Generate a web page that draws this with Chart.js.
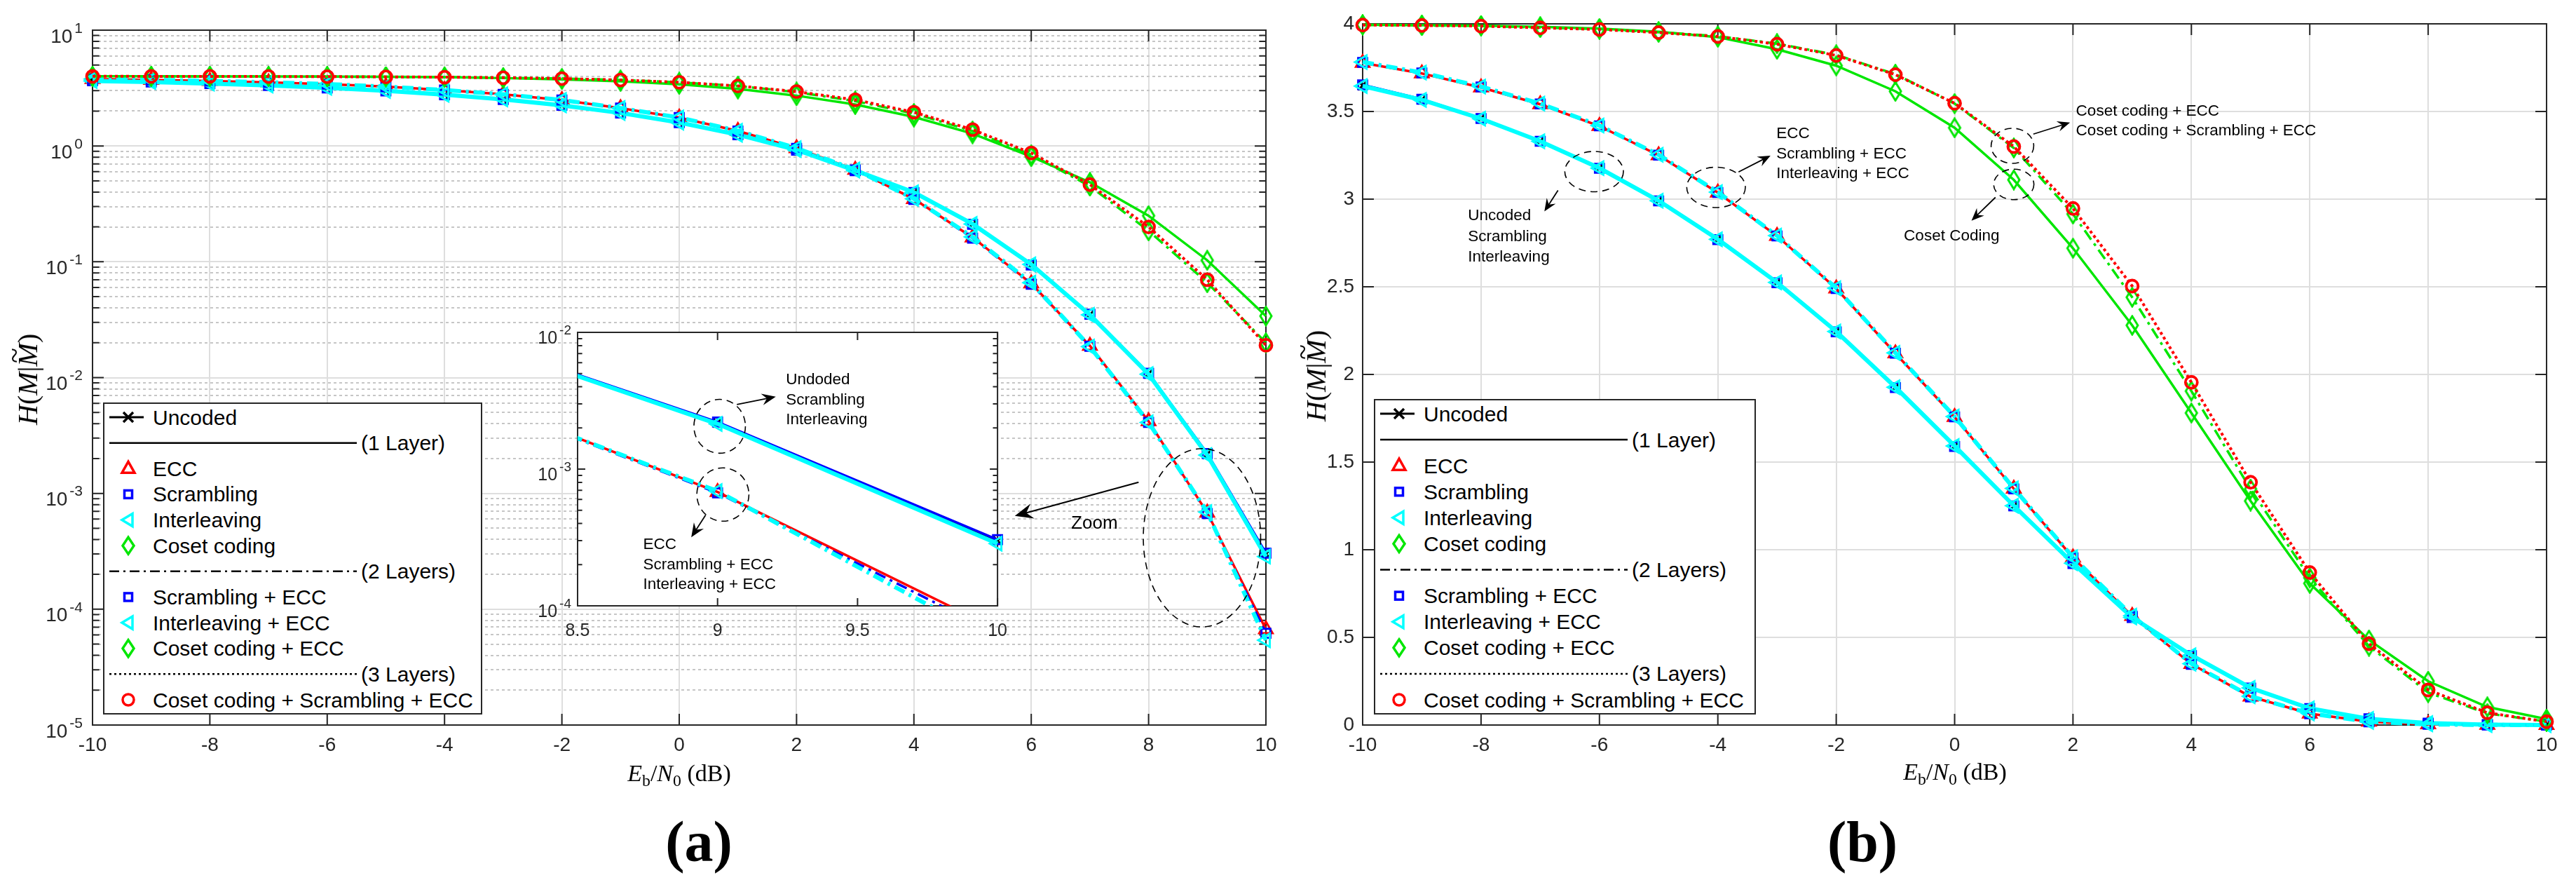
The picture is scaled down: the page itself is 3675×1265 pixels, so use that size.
<!DOCTYPE html>
<html>
<head>
<meta charset="utf-8">
<title>H(M|M~) versus Eb/N0</title>
<script src="https://cdn.jsdelivr.net/npm/chart.js@4.4.1/dist/chart.umd.min.js"></script>
<style>
  html, body { margin: 0; padding: 0; background: #fff; }
  body { position: relative; width: 3675px; height: 1265px; overflow: hidden; font-family: "Liberation Sans", Arial, sans-serif; }
  .panel { position: absolute; }
  .legend { position: absolute; overflow: visible; }
  .axis-title { position: absolute; font-family: "Liberation Serif", "DejaVu Serif", serif; color: #000; white-space: nowrap; transform: translate(-50%, -50%); line-height: 1; }
  .axis-title .sb { font-size: 0.7em; position: relative; top: 0.3em; }
  .ytitle { transform: translate(-50%, -50%) rotate(-90deg); }
  .tl { position: relative; display: inline-block; }
  .tl .tw { position: absolute; left: 0.12em; top: -0.48em; font-style: normal; }
  .tag { position: absolute; font-family: "Liberation Serif", "DejaVu Serif", serif; font-weight: bold; font-size: 82px; transform: translate(-50%, -50%); line-height: 1; }
</style>
</head>
<body>
<div class="panel" style="left:0;top:0;width:1880px;height:1265px"><canvas id="chartLog"></canvas></div>
<div class="panel" style="left:750px;top:455px;width:700px;height:460px"><canvas id="chartZoom"></canvas></div>
<div class="panel" style="left:1880px;top:0;width:1795px;height:1265px"><canvas id="chartLin"></canvas></div>

<svg class="legend" id="legendLog" style="left:147px;top:574px" width="541" height="445"></svg>
<svg class="legend" id="legendLin" style="left:1960px;top:569px" width="545" height="450"></svg>

<div class="axis-title ytitle" style="left:40px;top:541px;font-size:40px"><i>H</i>(<i>M</i>|<i class="tl">M<span class="tw">~</span></i>)</div>
<div class="axis-title ytitle" style="left:1878px;top:536px;font-size:40px"><i>H</i>(<i>M</i>|<i class="tl">M<span class="tw">~</span></i>)</div>
<div class="axis-title" style="left:969px;top:1103px;font-size:34px"><i>E</i><span class="sb">b</span>/<i>N</i><span class="sb">0</span> (dB)</div>
<div class="axis-title" style="left:2789px;top:1101px;font-size:34px"><i>E</i><span class="sb">b</span>/<i>N</i><span class="sb">0</span> (dB)</div>
<div class="tag" style="left:997px;top:1201px">(a)</div>
<div class="tag" style="left:2657px;top:1201px">(b)</div>

<script>
// Eb/N0 in dB
const snrDb = [-10, -9, -8, -7, -6, -5, -4, -3, -2, -1, 0, 1, 2, 3, 4, 5, 6, 7, 8, 9, 10];

// H(M|M~) per scheme
const uncoded = [3.648, 3.568, 3.461, 3.331, 3.177, 2.990, 2.770, 2.524, 2.244, 1.926, 1.590, 1.249, 0.922, 0.613, 0.397, 0.211, 0.094, 0.0350, 0.0108, 0.00218, 0.000300];
const ecc = [3.777, 3.717, 3.637, 3.541, 3.417, 3.250, 3.037, 2.790, 2.490, 2.120, 1.757, 1.348, 0.955, 0.622, 0.348, 0.162, 0.065, 0.0188, 0.0042, 0.00068, 0.000067];
const scrambling = [3.652, 3.570, 3.460, 3.330, 3.176, 2.990, 2.769, 2.523, 2.243, 1.925, 1.589, 1.250, 0.921, 0.613, 0.396, 0.211, 0.094, 0.0352, 0.0109, 0.00221, 0.000305];
const interleaving = [3.645, 3.566, 3.459, 3.330, 3.177, 2.991, 2.771, 2.525, 2.245, 1.927, 1.592, 1.251, 0.923, 0.614, 0.398, 0.212, 0.095, 0.0348, 0.0107, 0.00214, 0.000285];
const cosetCoding = [3.995, 3.992, 3.990, 3.983, 3.973, 3.955, 3.924, 3.855, 3.761, 3.615, 3.407, 3.110, 2.720, 2.280, 1.780, 1.278, 0.808, 0.485, 0.250, 0.103, 0.034];
const scramblingEcc = [3.780, 3.720, 3.640, 3.543, 3.418, 3.251, 3.038, 2.790, 2.490, 2.121, 1.758, 1.347, 0.954, 0.621, 0.346, 0.160, 0.064, 0.0186, 0.0041, 0.00067, 0.000062];
const interleavingEcc = [3.782, 3.722, 3.642, 3.545, 3.420, 3.253, 3.040, 2.792, 2.492, 2.123, 1.760, 1.350, 0.957, 0.624, 0.350, 0.164, 0.066, 0.0185, 0.0041, 0.00069, 0.000054];
const cosetEcc = [3.994, 3.991, 3.988, 3.979, 3.970, 3.952, 3.930, 3.887, 3.823, 3.713, 3.545, 3.292, 2.915, 2.440, 1.905, 1.346, 0.840, 0.450, 0.185, 0.066, 0.020];
const cosetScramblingEcc = [3.993, 3.991, 3.987, 3.977, 3.968, 3.950, 3.928, 3.884, 3.820, 3.710, 3.547, 3.300, 2.947, 2.504, 1.955, 1.385, 0.870, 0.464, 0.200, 0.070, 0.019];

const seriesNames = ['Uncoded', 'ECC', 'Scrambling', 'Interleaving', 'Coset coding',
    'Scrambling + ECC', 'Interleaving + ECC', 'Coset coding + ECC', 'Coset coding + Scrambling + ECC'];
const layerLabels = ['(1 Layer)', '(2 Layers)', '(3 Layers)'];

// axis ticks
const xTickValues = [-10, -8, -6, -4, -2, 0, 2, 4, 6, 8, 10];
const logDecades = [-5, -4, -3, -2, -1, 0, 1];
const linTickValues = [0, 0.5, 1, 1.5, 2, 2.5, 3, 3.5, 4];
const zoomXTicks = [8.5, 9, 9.5, 10];
const zoomDecades = [-4, -3, -2];

const seriesValues = [uncoded, ecc, scrambling, interleaving, cosetCoding,
    scramblingEcc, interleavingEcc, cosetEcc, cosetScramblingEcc];

const AXIS = '#262626';
const GRID = '#dedede';
const MINOR_GRID = '#c6c6c6';
const SANS = '"Liberation Sans", Arial, Helvetica, sans-serif';
const DASH_DOT = [16, 7, 4, 7];
const DOTTED = [4, 4];

Chart.defaults.font.family = SANS;

function makeDiamond(color) {
    const c = document.createElement('canvas');
    c.width = 22;
    c.height = 30;
    const g = c.getContext('2d');
    g.strokeStyle = color;
    g.lineWidth = 3;
    g.beginPath();
    g.moveTo(11, 2); g.lineTo(19, 15); g.lineTo(11, 28); g.lineTo(3, 15);
    g.closePath();
    g.stroke();
    return c;
}

const greenDiamond = makeDiamond('#00e600');

const seriesLook = [
    { color: '#000000', marker: 'crossRot', dash: [], width: 3, size: 9 },
    { color: '#ff0000', marker: 'triangle', dash: [], width: 3.5, size: 11 },
    { color: '#0000ff', marker: 'rect', dash: [], width: 3.5, size: 9 },
    { color: '#00ffff', marker: 'triangle', rot: -90, dash: [], width: 6, size: 11 },
    { color: '#00e600', marker: 'diamond', dash: [], width: 3.5, size: 10 },
    { color: '#0000ff', marker: 'rect', dash: DASH_DOT, width: 3.5, size: 9 },
    { color: '#00ffff', marker: 'triangle', rot: -90, dash: DASH_DOT, width: 6, size: 11 },
    { color: '#00e600', marker: 'diamond', dash: DASH_DOT, width: 3.5, size: 10 },
    { color: '#ff0000', marker: 'circle', dash: DOTTED, width: 4, size: 8.5 },
];

const isDecade = v => Math.abs(Math.log10(v) - Math.round(Math.log10(v))) < 1e-6;

function logTicksFor(decades) {
    const out = [];
    for (let i = 0; i < decades.length - 1; i++) {
        for (let m = 1; m <= 9; m++) out.push(m * Math.pow(10, decades[i]));
    }
    out.push(Math.pow(10, decades[decades.length - 1]));
    return out;
}

function buildDatasets(clip) {
    return seriesValues.map((vals, i) => {
        const look = seriesLook[i];
        return {
            label: seriesNames[i],
            data: snrDb.map((x, k) => ({ x: x, y: vals[k] })),
            borderColor: look.color,
            borderWidth: look.width,
            borderDash: look.dash,
            backgroundColor: 'rgba(0,0,0,0)',
            fill: false,
            tension: 0,
            pointStyle: look.marker === 'diamond' ? greenDiamond : look.marker,
            pointRotation: look.rot || 0,
            pointRadius: look.size,
            pointBorderWidth: look.marker === 'circle' ? 3.8 : 3,
            pointBorderColor: look.color,
            pointBackgroundColor: 'rgba(0,0,0,0)',
            clip: clip,
            order: seriesValues.length - i,
        };
    });
}

// box, inward ticks and dotted minor grid like the original figure
const framePlugin = {
    id: 'frame',
    beforeDatasetsDraw(chart, args, opts) {
        const { ctx, chartArea: a, scales: { x, y } } = chart;
        const len = opts.tick || 16;
        ctx.save();
        if (opts.minorGrid) {
            ctx.strokeStyle = MINOR_GRID;
            ctx.lineWidth = 2;
            ctx.setLineDash([4, 4]);
            ctx.beginPath();
            y.ticks.forEach(t => {
                if (isDecade(t.value)) return;
                const p = Math.round(y.getPixelForValue(t.value));
                ctx.moveTo(a.left, p);
                ctx.lineTo(a.right, p);
            });
            ctx.stroke();
            ctx.setLineDash([]);
        }
        ctx.strokeStyle = AXIS;
        ctx.lineWidth = 2;
        ctx.beginPath();
        x.ticks.forEach(t => {
            const p = x.getPixelForValue(t.value);
            ctx.moveTo(p, a.bottom); ctx.lineTo(p, a.bottom - len);
            ctx.moveTo(p, a.top); ctx.lineTo(p, a.top + len);
        });
        y.ticks.forEach(t => {
            const l = (opts.log && !isDecade(t.value)) ? len * 0.6 : len;
            const p = y.getPixelForValue(t.value);
            ctx.moveTo(a.left, p); ctx.lineTo(a.left + l, p);
            ctx.moveTo(a.right, p); ctx.lineTo(a.right - l, p);
        });
        ctx.stroke();
        ctx.strokeRect(a.left, a.top, a.right - a.left, a.bottom - a.top);
        ctx.restore();
    }
};

// "10" with a raised exponent at every decade of a log axis
const decadeLabelPlugin = {
    id: 'decadeLabels',
    afterDraw(chart, args, opts) {
        const { ctx, chartArea: a, scales: { y } } = chart;
        const big = opts.size || 28;
        const small = Math.round(big * 0.75);
        ctx.save();
        ctx.fillStyle = AXIS;
        ctx.textAlign = 'right';
        ctx.textBaseline = 'alphabetic';
        y.ticks.forEach(t => {
            if (!isDecade(t.value)) return;
            const p = y.getPixelForValue(t.value);
            const exp = String(Math.round(Math.log10(t.value)));
            const xr = a.left - (opts.gap || 14);
            ctx.font = small + 'px ' + SANS;
            const ew = ctx.measureText(exp).width;
            ctx.fillText(exp, xr, p + small * 0.18);
            ctx.font = big + 'px ' + SANS;
            ctx.fillText('10', xr - ew - 3, p + big * 0.63);
        });
        ctx.restore();
    }
};

const paperPlugin = {
    id: 'paper',
    beforeDraw(chart) {
        const { ctx, chartArea: a } = chart;
        ctx.save();
        ctx.fillStyle = '#ffffff';
        ctx.fillRect(a.left, a.top, a.right - a.left, a.bottom - a.top);
        ctx.restore();
    }
};

function notesPlugin(notes, logY) {
    return {
        id: 'notes',
        afterDatasetsDraw(chart) {
            const { ctx, scales: { x, y } } = chart;
            const px = v => x.getPixelForValue(v);
            const py = v => y.getPixelForValue(logY ? Math.pow(10, v) : v);
            ctx.save();
            ctx.strokeStyle = '#000';
            ctx.fillStyle = '#000';
            notes.ellipses.forEach(e => {
                const cx = px(e.x), cy = py(e.y);
                const rx = Math.abs(px(e.x + e.rx) - cx);
                const ry = Math.abs(py(e.y + e.ry) - cy);
                ctx.lineWidth = 1.6;
                ctx.setLineDash([10, 7]);
                ctx.beginPath();
                ctx.ellipse(cx, cy, rx, ry, 0, 0, Math.PI * 2);
                ctx.stroke();
            });
            ctx.setLineDash([]);
            notes.arrows.forEach(ar => {
                const x1 = px(ar.from[0]), y1 = py(ar.from[1]);
                const x2 = px(ar.to[0]), y2 = py(ar.to[1]);
                const ang = Math.atan2(y2 - y1, x2 - x1);
                const L = ar.head || 18, W = L * 0.42;
                const c = Math.cos(ang), s = Math.sin(ang);
                ctx.lineWidth = ar.width || 1.8;
                ctx.beginPath();
                ctx.moveTo(x1, y1);
                ctx.lineTo(x2 - c * L * 0.6, y2 - s * L * 0.6);
                ctx.stroke();
                ctx.beginPath();
                ctx.moveTo(x2, y2);
                ctx.lineTo(x2 - c * L - s * W, y2 - s * L + c * W);
                ctx.lineTo(x2 - c * L * 0.65, y2 - s * L * 0.65);
                ctx.lineTo(x2 - c * L + s * W, y2 - s * L - c * W);
                ctx.closePath();
                ctx.fill();
            });
            notes.texts.forEach(t => {
                ctx.font = (t.size || 22.5) + 'px ' + SANS;
                ctx.textAlign = t.align || 'left';
                ctx.textBaseline = 'middle';
                ctx.fillText(t.text, px(t.x), py(t.y));
            });
            ctx.restore();
        }
    };
}

const logNotes = {
    ellipses: [{ x: 8.91, y: -3.383, rx: 1.0, ry: 0.77 }],
    arrows: [{ from: [7.83, -2.904], to: [5.72, -3.195], head: 26, width: 2.2 }],
    texts: [{ x: 6.68, y: -3.26, text: 'Zoom', size: 26 }]
};

const zoomNotes = {
    ellipses: [
        { x: 9.0075, y: -2.687, rx: 0.092, ry: 0.197 },
        { x: 9.019, y: -3.186, rx: 0.093, ry: 0.195 }
    ],
    arrows: [
        { from: [9.069, -2.528], to: [9.208, -2.47], head: 20 },
        { from: [8.957, -3.337], to: [8.906, -3.499], head: 20 }
    ],
    texts: [
        { x: 9.244, y: -2.349, text: 'Undoded' },
        { x: 9.244, y: -2.494, text: 'Scrambling' },
        { x: 9.244, y: -2.639, text: 'Interleaving' },
        { x: 8.734, y: -3.554, text: 'ECC' },
        { x: 8.734, y: -3.699, text: 'Scrambling + ECC' },
        { x: 8.734, y: -3.846, text: 'Interleaving + ECC' }
    ]
};

const linNotes = {
    ellipses: [
        { x: -6.09, y: 3.157, rx: 0.495, ry: 0.115 },
        { x: -4.03, y: 3.067, rx: 0.495, ry: 0.115 },
        { x: 0.977, y: 3.304, rx: 0.36, ry: 0.1 },
        { x: 1.0, y: 3.084, rx: 0.34, ry: 0.087 }
    ],
    arrows: [
        { from: [-6.7, 3.05], to: [-6.93, 2.93] },
        { from: [-3.65, 3.155], to: [-3.11, 3.248] },
        { from: [1.33, 3.371], to: [1.95, 3.437] },
        { from: [0.69, 3.01], to: [0.285, 2.877] }
    ],
    texts: [
        { x: -8.22, y: 2.904, text: 'Uncoded' },
        { x: -8.22, y: 2.784, text: 'Scrambling' },
        { x: -8.22, y: 2.67, text: 'Interleaving' },
        { x: -3.01, y: 3.371, text: 'ECC' },
        { x: -3.01, y: 3.257, text: 'Scrambling + ECC' },
        { x: -3.01, y: 3.144, text: 'Interleaving + ECC' },
        { x: 2.05, y: 3.5, text: 'Coset coding + ECC' },
        { x: 2.05, y: 3.388, text: 'Coset coding + Scrambling + ECC' },
        { x: -0.05, y: 2.79, text: 'Coset Coding', align: 'center' }
    ]
};

function tickFont(size) {
    return { color: AXIS, font: { family: SANS, size: size }, maxRotation: 0, autoSkip: false };
}

function baseOptions(padding) {
    return {
        responsive: true,
        maintainAspectRatio: false,
        animation: false,
        layout: { padding: padding },
        plugins: { legend: { display: false }, tooltip: { enabled: false } },
    };
}

// (a) log scale
const mainLogTicks = logTicksFor(logDecades);
const logOpts = baseOptions({ left: 0, top: 43, right: 74, bottom: 171 });
logOpts.plugins.frame = { tick: 16, log: true, minorGrid: true };
logOpts.plugins.decadeLabels = { size: 28, gap: 14 };
logOpts.scales = {
    x: {
        type: 'linear', min: -10, max: 10,
        afterBuildTicks: s => { s.ticks = xTickValues.map(v => ({ value: v })); },
        afterFit: s => { s.height = 60; },
        grid: { color: GRID, lineWidth: 2, drawTicks: false },
        border: { display: false },
        ticks: Object.assign(tickFont(28), { padding: 12, callback: v => String(v) })
    },
    y: {
        type: 'logarithmic', min: 1e-5, max: 10,
        afterBuildTicks: s => { s.ticks = mainLogTicks.map(v => ({ value: v })); },
        afterFit: s => { s.width = 132; },
        grid: { color: c => (c.tick && isDecade(c.tick.value)) ? GRID : 'rgba(0,0,0,0)', lineWidth: 2, drawTicks: false },
        border: { display: false },
        ticks: { display: false }
    }
};
new Chart(document.getElementById('chartLog'), {
    type: 'line',
    data: { datasets: buildDatasets(false) },
    options: logOpts,
    plugins: [framePlugin, decadeLabelPlugin, notesPlugin(logNotes, true)]
});

// zoomed inset of (a)
const zoomLogTicks = logTicksFor(zoomDecades);
const zoomOpts = baseOptions({ left: 0, top: 19, right: 21, bottom: 0 });
zoomOpts.plugins.frame = { tick: 11, log: true, minorGrid: false };
zoomOpts.plugins.decadeLabels = { size: 25, gap: 9 };
zoomOpts.scales = {
    x: {
        type: 'linear', min: 8.5, max: 10,
        afterBuildTicks: s => { s.ticks = zoomXTicks.map(v => ({ value: v })); },
        afterFit: s => { s.height = 51; },
        grid: { display: false },
        border: { display: false },
        ticks: Object.assign(tickFont(25), { padding: 13, callback: v => String(v) })
    },
    y: {
        type: 'logarithmic', min: 1e-4, max: 1e-2,
        afterBuildTicks: s => { s.ticks = zoomLogTicks.map(v => ({ value: v })); },
        afterFit: s => { s.width = 74; },
        grid: { display: false },
        border: { display: false },
        ticks: { display: false }
    }
};
new Chart(document.getElementById('chartZoom'), {
    type: 'line',
    data: { datasets: buildDatasets({ left: 0, top: 0, right: 25, bottom: 0 }) },
    options: zoomOpts,
    plugins: [paperPlugin, framePlugin, decadeLabelPlugin, notesPlugin(zoomNotes, true)]
});

// (b) linear scale
const linOpts = baseOptions({ left: 0, top: 34, right: 42, bottom: 171 });
linOpts.plugins.frame = { tick: 16, log: false, minorGrid: false };
linOpts.scales = {
    x: {
        type: 'linear', min: -10, max: 10,
        afterBuildTicks: s => { s.ticks = xTickValues.map(v => ({ value: v })); },
        afterFit: s => { s.height = 60; },
        grid: { color: GRID, lineWidth: 2, drawTicks: false },
        border: { display: false },
        ticks: Object.assign(tickFont(28), { padding: 12, callback: v => String(v) })
    },
    y: {
        type: 'linear', min: 0, max: 4,
        afterBuildTicks: s => { s.ticks = linTickValues.map(v => ({ value: v })); },
        afterFit: s => { s.width = 64; },
        grid: { color: GRID, lineWidth: 2, drawTicks: false },
        border: { display: false },
        ticks: Object.assign(tickFont(28), { padding: 12, callback: v => String(v) })
    }
};
new Chart(document.getElementById('chartLin'), {
    type: 'line',
    data: { datasets: buildDatasets(false) },
    options: linOpts,
    plugins: [framePlugin, notesPlugin(linNotes, false)]
});

// legends with layer separators
function symbolSvg(look, cx, cy) {
    const st = `stroke="${look.color}" stroke-width="3.5" fill="none"`;
    if (look.marker === 'triangle' && look.rot === -90) {
        return `<polygon points="${cx - 9},${cy} ${cx + 6},${cy - 9} ${cx + 6},${cy + 9}" ${st}/>`;
    }
    if (look.marker === 'triangle') {
        return `<polygon points="${cx},${cy - 10} ${cx - 9},${cy + 6} ${cx + 9},${cy + 6}" ${st}/>`;
    }
    if (look.marker === 'rect') {
        return `<rect x="${cx - 5.5}" y="${cy - 5.5}" width="11" height="11" ${st}/>`;
    }
    if (look.marker === 'diamond') {
        return `<polygon points="${cx},${cy - 12} ${cx + 8},${cy} ${cx},${cy + 12} ${cx - 8},${cy}" ${st}/>`;
    }
    if (look.marker === 'circle') {
        return `<circle cx="${cx}" cy="${cy}" r="8" ${st}/>`;
    }
    return `<path d="M${cx - 7},${cy - 7}L${cx + 7},${cy + 7}M${cx + 7},${cy - 7}L${cx - 7},${cy + 7}" ${st}/>`;
}

function drawLegend(svgId) {
    const svg = document.getElementById(svgId);
    const w = +svg.getAttribute('width');
    const h = +svg.getAttribute('height');
    const rows = [
        { s: 0, line: true }, { layer: 0, dash: '' },
        { s: 1 }, { s: 2 }, { s: 3 }, { s: 4 },
        { layer: 1, dash: '14 6 3 6' },
        { s: 5 }, { s: 6 }, { s: 7 },
        { layer: 2, dash: '3 4' },
        { s: 8 }
    ];
    const rowH = (h - 42) / (rows.length - 1);
    const txt = `font-family='${SANS}' font-size="30" fill="#000" dominant-baseline="central"`;
    let out = `<rect x="1" y="1" width="${w - 2}" height="${h - 2}" fill="#fff" stroke="${AXIS}" stroke-width="2"/>`;
    rows.forEach((row, k) => {
        const cy = 21 + k * rowH;
        if (row.layer !== undefined) {
            out += `<line x1="9" y1="${cy}" x2="362" y2="${cy}" stroke="#000" stroke-width="2.5" stroke-dasharray="${row.dash}"/>`;
            out += `<text x="368" y="${cy}" ${txt}>${layerLabels[row.layer]}</text>`;
            return;
        }
        const look = seriesLook[row.s];
        if (row.line) {
            out += `<line x1="9" y1="${cy}" x2="58" y2="${cy}" stroke="${look.color}" stroke-width="3"/>`;
        }
        out += symbolSvg(look, 36, cy);
        out += `<text x="71" y="${cy}" ${txt}>${seriesNames[row.s]}</text>`;
    });
    svg.innerHTML = out;
}

drawLegend('legendLog');
drawLegend('legendLin');
</script>
</body>
</html>
